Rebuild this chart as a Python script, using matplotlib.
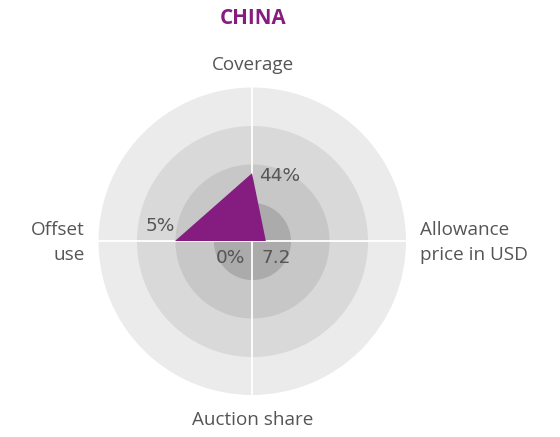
import numpy as np
import matplotlib.pyplot as plt

# ----------------------------------------------------------------------------------------------
# data
title = "CHINA"
axis_names = ["Coverage", "Allowance\nprice in USD", "Auction share", "Offset\nuse"]
values = [44, 7.2, 0, 5]
value_labels = ["44%", "7.2", "0%", "5%"]
axis_max = [100, 80, 100, 10]   # each spoke has its own scale
n_rings = 4

purple = "#851c80"
ring_colors = ["#ababab", "#c6c7c6", "#d9d9d9", "#ebebeb"]  # inner -> outer
text_grey = "#555555"

# ----------------------------------------------------------------------------------------------
fig = plt.figure(figsize=(5.6, 4.37), dpi=100)
ax = fig.add_axes([0.175, 0.096, 0.55, 0.705], projection="polar")
ax.set_theta_zero_location("N")
ax.set_theta_direction(-1)
ax.set_ylim(0, n_rings)
ax.axis("off")

# concentric rings, outer first
t = np.linspace(0, 2 * np.pi, 361)
for i in range(n_rings, 0, -1):
    ax.fill_between(t, 0, i, color=ring_colors[i - 1], lw=0, zorder=1)

# spokes
angles = np.arange(len(axis_names)) * 2 * np.pi / len(axis_names)
for a in angles:
    ax.plot([a, a], [0, n_rings], color="white", lw=1.3, zorder=2)

# the shape
r = [v / m * n_rings for v, m in zip(values, axis_max)]
ax.fill(np.append(angles, angles[0]), r + [r[0]], color=purple, lw=0, zorder=3)

# value labels (7.2 and 0% sit just below the centre)
label_pos = [((angles[0], r[0]), (5, -2), "left"),
             ((angles[1], 0), (7, -12.5), "left"),
             ((angles[2], 0), (-5, -12.5), "right"),
             ((angles[3], r[3]), (0, 10.5), "right")]
for lab, (xy, off, ha) in zip(value_labels, label_pos):
    ax.annotate(lab, xy=xy, xytext=off, textcoords="offset points", ha=ha, va="center",
                fontsize=13.3, color=text_grey, zorder=4)

# axis names
lab_font = dict(family="Open Sans", fontsize=13.6, color=text_grey)
fig.text(0.452, 0.851, axis_names[0], ha="center", va="center", **lab_font)
fig.text(0.750, 0.445, axis_names[1], ha="left", va="center", linespacing=1.45, **lab_font)
fig.text(0.452, 0.039, axis_names[2], ha="center", va="center", **lab_font)
fig.text(0.152, 0.445, axis_names[3], ha="right", va="center", linespacing=1.45, **lab_font)

fig.text(0.452, 0.957, title, ha="center", va="center", family="Open Sans",
         fontsize=14.8, fontweight="bold", color=purple)

fig.savefig("out.png", dpi=100, facecolor="white")
